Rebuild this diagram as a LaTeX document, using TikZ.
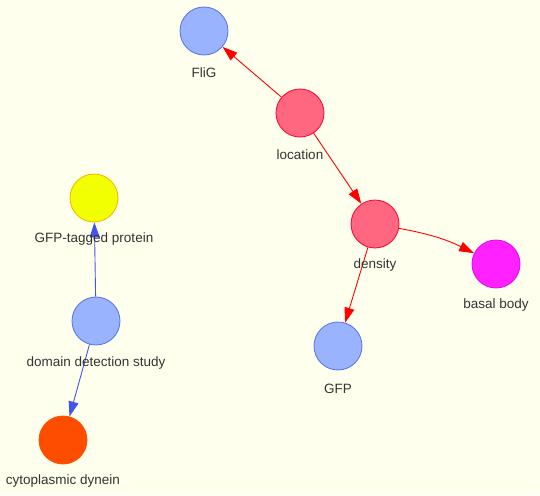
\documentclass[tikz,border=0pt]{standalone}
\usepackage{fontspec}
\setmainfont{Liberation Sans}
\usetikzlibrary{arrows.meta,positioning}
\definecolor{bg}{HTML}{FFFFEE}
\definecolor{bluefill}{HTML}{99B3FF}
\definecolor{blueline}{HTML}{5570E8}
\definecolor{redfill}{HTML}{FF6680}
\definecolor{redline}{HTML}{FF0030}
\definecolor{magfill}{HTML}{FF22FF}
\definecolor{magline}{HTML}{E800E8}
\definecolor{yelfill}{HTML}{F2FF00}
\definecolor{yelline}{HTML}{F0B400}
\definecolor{orafill}{HTML}{FF4D00}
\definecolor{edgered}{HTML}{FF0000}
\definecolor{edgeblue}{HTML}{4455EE}
\definecolor{txt}{HTML}{333333}
\tikzset{
  vert/.style={circle, minimum size=48pt, inner sep=0pt, line width=0.8pt},
  bluev/.style={vert, fill=bluefill, draw=blueline},
  redv/.style={vert, fill=redfill, draw=redline},
  magv/.style={vert, fill=magfill, draw=magline},
  yelv/.style={vert, fill=yelfill, draw=yelline},
  orav/.style={vert, fill=orafill, draw=orafill},
  lbl/.style={text=txt, font=\fontsize{13.5}{15}\selectfont, inner sep=0pt},
  rededge/.style={draw=edgered, line width=0.9pt, -{Triangle[length=15pt,width=10pt]}},
  blueedge/.style={draw=edgeblue, line width=0.9pt, -{Triangle[length=15pt,width=10pt]}},
}
\begin{document}
\begin{tikzpicture}[x=1pt,y=-1pt]
\fill[bg] (0,0) rectangle (540,495);
\useasboundingbox (0,0) rectangle (540,495);
\node[bluev] (flig) at (204,31) {};
\node[redv] (loc) at (300,113) {};
\node[redv] (dens) at (375,224) {};
\node[magv] (basal) at (496,264) {};
\node[bluev] (gfp) at (338,346) {};
\node[yelv] (gtp) at (94,198) {};
\node[bluev] (dds) at (96,321) {};
\node[orav] (dyn) at (63,440) {};
\draw[rededge] (loc) -- (flig);
\draw[rededge] (loc) -- (dens);
\draw[rededge] (dens) to[bend left=8] (basal);
\draw[rededge] (dens) -- (gfp);
\draw[blueedge] (dds) -- (gtp);
\draw[blueedge] (dds) -- (dyn);
\node[lbl] (flig-l) at (204,72.5) {FliG};
\node[lbl] (loc-l) at (300,154.5) {location};
\node[lbl] (dens-l) at (375,265.5) {density};
\node[lbl] (basal-l) at (496,305.5) {basal body};
\node[lbl] (gfp-l) at (338,388.5) {GFP};
\node[lbl] (gtp-l) at (94,239.5) {GFP-tagged protein};
\node[lbl] (dds-l) at (96,363.5) {domain detection study};
\node[lbl] (dyn-l) at (63,481.5) {cytoplasmic dynein};
\end{tikzpicture}
\end{document}
